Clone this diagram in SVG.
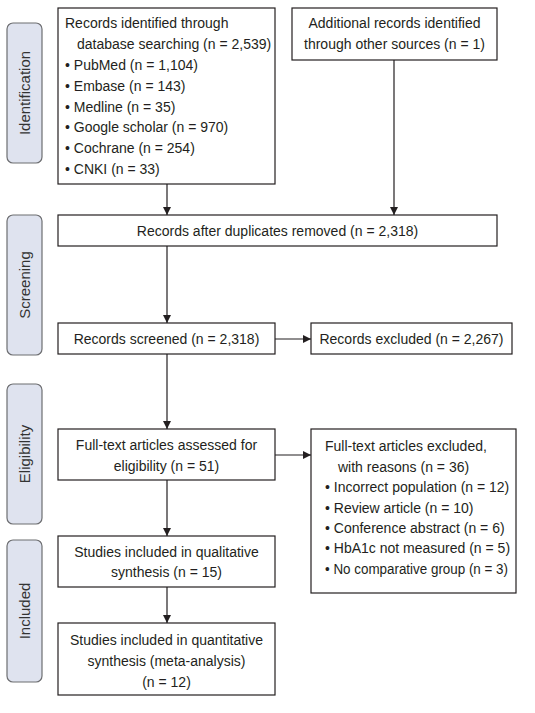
<svg xmlns="http://www.w3.org/2000/svg" width="535" height="713" viewBox="0 0 535 713">
<defs>
<style>
.box{fill:#fff;stroke:#231f20;stroke-width:1.2}
.side{fill:#dfe3ef;stroke:#6d6e71;stroke-width:1.2}
text{font-family:"Liberation Sans",Arial,sans-serif;font-size:14px;fill:#231f20}
.c{text-anchor:middle}
.lbl{font-size:15px;text-anchor:middle;fill:#333}
.ln{stroke:#231f20;stroke-width:1.2;fill:none}
</style>
<marker id="ah" markerWidth="8" markerHeight="8" refX="8" refY="4" orient="auto" markerUnits="userSpaceOnUse">
<path d="M0,0 L8,4 L0,8 Z" fill="#231f20"/>
</marker>
</defs>
<rect width="535" height="713" fill="#fff"/>

<g id="lbl-identification"><rect class="side" x="7" y="23" width="35" height="140" rx="6"/><text class="lbl" transform="translate(30,93) rotate(-90)">Identification</text></g>
<g id="lbl-screening"><rect class="side" x="7" y="215" width="35" height="140" rx="6"/><text class="lbl" transform="translate(30,285) rotate(-90)">Screening</text></g>
<g id="lbl-eligibility"><rect class="side" x="7" y="384" width="35" height="140" rx="6"/><text class="lbl" transform="translate(30,454) rotate(-90)">Eligibility</text></g>
<g id="lbl-included"><rect class="side" x="7" y="540" width="35" height="142" rx="6"/><text class="lbl" transform="translate(30,611) rotate(-90)">Included</text></g>

<g id="db-records"><rect class="box" x="58" y="8" width="217" height="176"/>
<text x="65" y="28">Records identified through</text>
<text x="77" y="49">database searching (n = 2,539)</text>
<text x="65" y="70">• PubMed (n = 1,104)</text>
<text x="65" y="91">• Embase (n = 143)</text>
<text x="65" y="112">• Medline (n = 35)</text>
<text x="65" y="132">• Google scholar (n = 970)</text>
<text x="65" y="153">• Cochrane (n = 254)</text>
<text x="65" y="174">• CNKI (n = 33)</text>
</g>
<g id="other-records"><rect class="box" x="292" y="8" width="205" height="52"/>
<text class="c" x="394.5" y="28">Additional records identified</text>
<text class="c" x="394.5" y="49">through other sources (n = 1)</text>
</g>
<g id="dedup"><rect class="box" x="58" y="215" width="439" height="31"/>
<text class="c" x="277.5" y="236">Records after duplicates removed (n = 2,318)</text>
</g>
<g id="screened"><rect class="box" x="58" y="323" width="217" height="31"/>
<text class="c" x="166.5" y="344">Records screened (n = 2,318)</text>
</g>
<g id="excluded"><rect class="box" x="311" y="323" width="201" height="31"/>
<text class="c" x="411.5" y="344">Records excluded (n = 2,267)</text>
</g>
<g id="fulltext"><rect class="box" x="58" y="429" width="217" height="51"/>
<text class="c" x="166.5" y="450">Full-text articles assessed for</text>
<text class="c" x="166.5" y="471">eligibility (n = 51)</text>
</g>
<g id="ft-excluded"><rect class="box" x="311" y="429" width="205" height="164"/>
<text x="325" y="451">Full-text articles excluded,</text>
<text x="338" y="472">with reasons (n = 36)</text>
<text x="325" y="492">• Incorrect population (n = 12)</text>
<text x="325" y="513">• Review article (n = 10)</text>
<text x="325" y="533">• Conference abstract (n = 6)</text>
<text x="325" y="553">• HbA1c not measured (n = 5)</text>
<text x="325" y="574" textLength="183" lengthAdjust="spacingAndGlyphs">• No comparative group (n = 3)</text>
</g>
<g id="qualitative"><rect class="box" x="58" y="536" width="217" height="51"/>
<text class="c" x="166.5" y="557">Studies included in qualitative</text>
<text class="c" x="166.5" y="577">synthesis (n = 15)</text>
</g>
<g id="quantitative"><rect class="box" x="58" y="623" width="217" height="72"/>
<text class="c" x="166.5" y="645">Studies included in quantitative</text>
<text class="c" x="166.5" y="666">synthesis (meta-analysis)</text>
<text class="c" x="166.5" y="687">(n = 12)</text>
</g>

<g id="connectors">
<line class="ln" x1="167" y1="184" x2="167" y2="215" marker-end="url(#ah)"/>
<line class="ln" x1="394" y1="60" x2="394" y2="215" marker-end="url(#ah)"/>
<line class="ln" x1="167" y1="246" x2="167" y2="323" marker-end="url(#ah)"/>
<line class="ln" x1="275" y1="339" x2="311" y2="339" marker-end="url(#ah)"/>
<line class="ln" x1="167" y1="354" x2="167" y2="429" marker-end="url(#ah)"/>
<line class="ln" x1="275" y1="455" x2="311" y2="455" marker-end="url(#ah)"/>
<line class="ln" x1="167" y1="480" x2="167" y2="536" marker-end="url(#ah)"/>
<line class="ln" x1="167" y1="587" x2="167" y2="623" marker-end="url(#ah)"/>
</g>
</svg>
